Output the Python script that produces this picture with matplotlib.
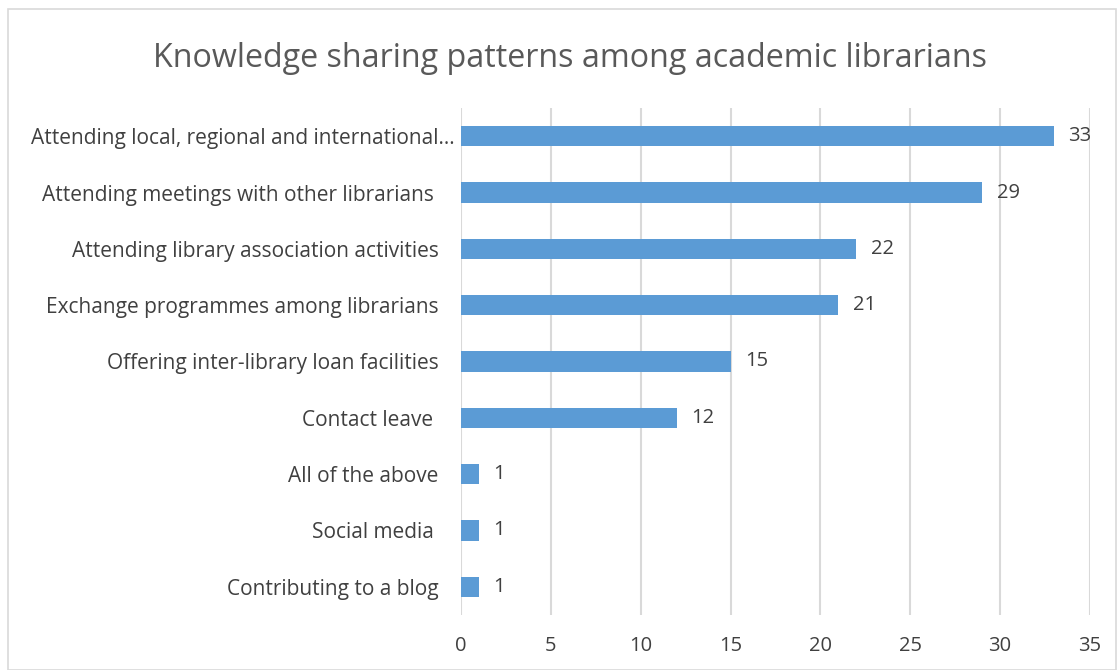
import matplotlib.pyplot as plt
from matplotlib.patches import Rectangle
from matplotlib.transforms import ScaledTranslation

labels = ["Attending local, regional and international…",
          "Attending meetings with other librarians ",
          "Attending library association activities",
          "Exchange programmes among librarians",
          "Offering inter-library loan facilities",
          "Contact leave ",
          "All of the above",
          "Social media ",
          "Contributing to a blog"]
values = [33, 29, 22, 21, 15, 12, 1, 1, 1]
xticks = [0, 5, 10, 15, 20, 25, 30, 35]

plt.rcParams['font.family'] = ['Open Sans', 'DejaVu Sans']

fig = plt.figure(figsize=(11.17, 6.7), dpi=100)
ax = fig.add_axes([0.4127, 0.0821, 0.5631, 0.7567])

pos = list(range(len(labels)))[::-1]
ax.barh(pos, values, height=0.36, color='#5b9bd5', zorder=3)
for p, v in zip(pos, values):
    ax.text(v + 0.8, p, str(v), va='center', ha='left', fontsize=14.5, color='#404040')

ax.set_xlim(0, 35)
ax.set_ylim(-0.5, len(labels) - 0.5)
ax.set_xticks(xticks)
ax.set_yticks(pos)
ax.set_yticklabels(labels)
ax.tick_params(length=0, labelsize=15, labelcolor='#404040')
ax.tick_params(axis='x', pad=15, labelsize=14.5)
ax.tick_params(axis='y', pad=16)
# the truncated label sits closer to the axis
first = ax.get_yticklabels()[0]
first.set_transform(first.get_transform() + ScaledTranslation(16 / 100, 0, fig.dpi_scale_trans))
ax.grid(axis='x', color='#d9d9d9', linewidth=1.5, zorder=0)
for s in ax.spines.values():
    s.set_visible(False)

fig.text(0.510, 0.913, "Knowledge sharing patterns among academic librarians",
         ha='center', va='center', fontsize=23.2, color='#595959')

fig.patches.append(Rectangle((8 / 1117, 0), 1 - 9 / 1117, 1 - 9 / 670,
                             transform=fig.transFigure, fill=False,
                             edgecolor='#d9d9d9', linewidth=1.2))

fig.savefig('out.png', dpi=100)
